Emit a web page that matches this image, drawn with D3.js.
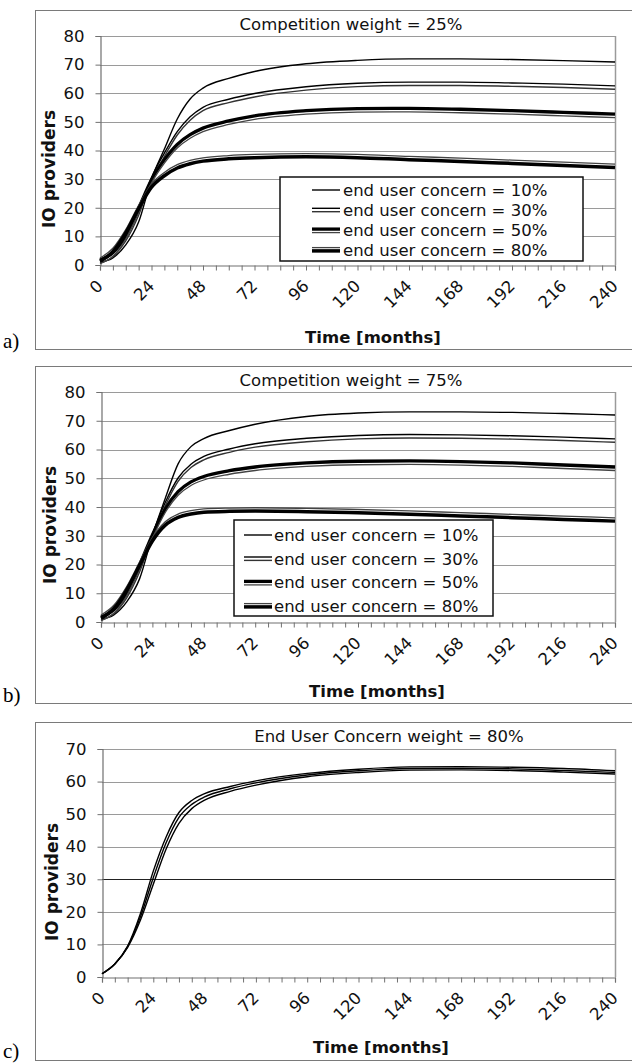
<!DOCTYPE html>
<html><head><meta charset="utf-8">
<script src="https://cdn.jsdelivr.net/npm/d3@7"></script>
<style>body{margin:0;background:#fff}</style>
</head><body><svg id="c" width="632" height="1063"></svg>
<script>
// ---------- DATA ----------
const months = [0, 6, 12, 18, 24, 30, 36, 42, 48, 60, 72, 96, 120, 144, 168, 192, 216, 240];
const xTickLabels = [0, 24, 48, 72, 96, 120, 144, 168, 192, 216, 240];
const yTicksAB = [0, 10, 20, 30, 40, 50, 60, 70, 80];
const yTicksC = [0, 10, 20, 30, 40, 50, 60, 70];
const legendLabels = ["end user concern = 10%", "end user concern = 30%", "end user concern = 50%", "end user concern = 80%"];
const titles = ["Competition weight = 25%", "Competition weight = 75%", "End User Concern weight = 80%"];
const panelLetters = ["a)", "b)", "c)"];
const yAxisTitle = "IO providers";
const xAxisTitle = "Time [months]";

// panel a (competition weight 25%)
const aEuc10 = [1, 2.5, 7, 15, 30, 40.5, 51, 58, 61.8, 65.2, 67.6, 70.3, 71.5, 72, 72, 71.8, 71.4, 70.9];
const aEuc30 = [1.2, 3.5, 9, 18, 30, 38.5, 46, 51.2, 54.5, 57.3, 59.3, 61.7, 62.9, 63.3, 63.3, 63, 62.6, 62];
const aEuc50 = [1.4, 4, 10, 19.5, 29.5, 36.5, 41.8, 45.2, 47.5, 50, 51.8, 53.6, 54.3, 54.4, 54.1, 53.6, 53, 52.4];
const aEuc80 = [1.6, 5, 11.5, 20, 27.5, 31.5, 34.2, 35.7, 36.6, 37.4, 37.8, 38.1, 37.8, 37.1, 36.5, 35.8, 35.1, 34.4];
// panel b (competition weight 75%)
const bEuc10 = [1, 2.5, 7, 15, 30, 43, 55, 61, 63.8, 66.6, 68.8, 71.5, 72.7, 73.1, 73.1, 72.9, 72.5, 72];
const bEuc30 = [1.2, 3.5, 9, 18, 30, 41, 49.5, 54.3, 57, 59.6, 61.4, 63.3, 64.3, 64.6, 64.5, 64.2, 63.7, 63.1];
const bEuc50 = [1.4, 4, 10, 19.5, 30, 39, 45, 48.4, 50.3, 52.3, 53.6, 55, 55.6, 55.7, 55.5, 55, 54.3, 53.6];
const bEuc80 = [1.6, 5, 11.5, 20, 28.5, 34, 36.7, 37.9, 38.5, 38.8, 38.9, 38.7, 38.3, 37.8, 37.2, 36.6, 36, 35.4];
// panel c (end user concern weight 80%)
const cRun1 = [1, 4, 9.5, 19.5, 32.5, 43, 50.5, 54.2, 56.3, 58.5, 60.2, 62.5, 63.8, 64.5, 64.6, 64.4, 64, 63.3];
const cRun2 = [1, 4, 9.3, 18.5, 30.5, 41.2, 49, 53, 55.3, 57.8, 59.6, 62, 63.3, 64, 64.1, 63.9, 63.4, 62.8];
const cRun3 = [1, 4, 9.1, 17.5, 28.5, 39.3, 47.2, 51.7, 54.3, 57, 58.9, 61.5, 62.8, 63.5, 63.6, 63.4, 62.9, 62.3];

// ---------- STYLE / LAYOUT ----------
const FONT = "DejaVu Sans, Verdana, sans-serif";
const SERIF = "Liberation Serif, Times New Roman, serif";
const compound = [
  [{dy: 0, w: 1.4, c: "#000"}],
  [{dy: -1.7, w: 1.4, c: "#000"}, {dy: 1.7, w: 1.4, c: "#333"}],
  [{dy: -0.9, w: 3.3, c: "#000"}, {dy: 2.6, w: 1.3, c: "#444"}],
  [{dy: -2.4, w: 1.3, c: "#444"}, {dy: 0.9, w: 3.5, c: "#000"}]
];
const plain = [{dy: 0, w: 1.4, c: "#000"}];

const panels = [
  {series: [aEuc10, aEuc30, aEuc50, aEuc80], styles: compound, yTicks: yTicksAB,
   frameTop: 10, frameBot: 349, plot: [100, 615, 36, 265],
   titleXY: [351, 30], ylabXY: [49, 169], xlabXY: [373, 343], letterY: 348,
   legend: {x: 280, y: 177, w: 303, h: 84, sx0: 312, sx1: 340, tx: 343, rows: [190, 210, 230, 250]}},
  {series: [bEuc10, bEuc30, bEuc50, bEuc80], styles: compound, yTicks: yTicksAB,
   frameTop: 366, frameBot: 703, plot: [101, 615, 392, 622],
   titleXY: [351, 386], ylabXY: [50, 525], xlabXY: [377, 697], letterY: 702,
   legend: {x: 234, y: 520, w: 259, h: 96, sx0: 244, sx1: 272, tx: 274, rows: [535, 558.7, 582.3, 606]}},
  {series: [cRun1, cRun2, cRun3], styles: [plain, plain, plain], yTicks: yTicksC,
   frameTop: 722, frameBot: 1060, plot: [102, 615, 749, 977], darkGrid: 30,
   titleXY: [389, 742], ylabXY: [52, 882], xlabXY: [381, 1053], letterY: 1058,
   legend: null}
];

const svg = d3.select("#c");
svg.append("rect").attr("width", 632).attr("height", 1063).attr("fill", "#fff");

panels.forEach((p, pi) => {
  const g = svg.append("g");
  const [x0, x1, yTop, yBot] = p.plot;
  const yMax = d3.max(p.yTicks);
  const x = d3.scaleLinear().domain([0, 240]).range([x0, x1]);
  const y = d3.scaleLinear().domain([0, yMax]).range([yBot, yTop]);

  // chart frame
  g.append("rect").attr("x", 35.5).attr("y", p.frameTop + 0.5)
    .attr("width", 700).attr("height", p.frameBot - p.frameTop)
    .attr("fill", "#fff").attr("stroke", "#7a7a7a").attr("stroke-width", 1);

  // gridlines
  g.selectAll(".grid").data(p.yTicks.filter(d => d > 0)).join("line")
    .attr("x1", x0).attr("x2", x1)
    .attr("y1", d => Math.round(y(d)) + 0.5).attr("y2", d => Math.round(y(d)) + 0.5)
    .attr("stroke", d => d === p.darkGrid ? "#222" : "#9a9a9a").attr("stroke-width", 1.2);
  // right border of plot
  g.append("line").attr("x1", x1 + 0.5).attr("x2", x1 + 0.5).attr("y1", yTop).attr("y2", yBot)
    .attr("stroke", "#9a9a9a").attr("stroke-width", 1.5);

  // y axis
  const yAxis = d3.axisLeft(y).tickValues(p.yTicks).tickSize(5).tickPadding(11);
  const ya = g.append("g").attr("transform", `translate(${x0 + 0.5},0)`).call(yAxis);
  ya.select(".domain").attr("stroke", "#707070").attr("stroke-width", 1.2);
  ya.selectAll(".tick line").attr("stroke", "#707070");
  ya.selectAll(".tick text").attr("font-family", FONT).attr("font-size", 16.5).attr("fill", "#111");

  // x axis with minor ticks every 6 months
  const xAxis = d3.axisBottom(x).tickValues(d3.range(0, 241, 6)).tickSize(5).tickFormat("");
  const xa = g.append("g").attr("transform", `translate(0,${yBot + 0.5})`).call(xAxis);
  xa.select(".domain").attr("stroke", "#707070").attr("stroke-width", 1.2);
  xa.selectAll(".tick line").attr("stroke", "#707070");
  g.selectAll(".xl").data(xTickLabels).join("text")
    .attr("transform", d => `translate(${x(d) + 4},${yBot + 22}) rotate(-45)`)
    .attr("text-anchor", "end").attr("font-family", FONT).attr("font-size", 16.5).attr("fill", "#111")
    .text(d => d);

  // series
  const line = d3.line().x((d, i) => x(months[i])).y(d => y(d)).curve(d3.curveMonotoneX);
  p.series.forEach((s, si) => {
    p.styles[si].forEach(st => {
      g.append("path").datum(s).attr("d", line)
        .attr("transform", `translate(0,${st.dy})`)
        .attr("fill", "none").attr("stroke", st.c).attr("stroke-width", st.w)
        .attr("stroke-linejoin", "round");
    });
  });

  // legend
  if (p.legend) {
    const L = p.legend;
    g.append("rect").attr("x", L.x).attr("y", L.y).attr("width", L.w).attr("height", L.h)
      .attr("fill", "#fff").attr("stroke", "#111").attr("stroke-width", 1.5);
    legendLabels.forEach((lab, li) => {
      const ry = L.rows[li];
      p.styles[li].forEach(st => {
        g.append("line").attr("x1", L.sx0).attr("x2", L.sx1)
          .attr("y1", ry + st.dy).attr("y2", ry + st.dy)
          .attr("stroke", st.c).attr("stroke-width", st.w);
      });
      g.append("text").attr("x", L.tx).attr("y", ry).attr("dy", "0.36em")
        .attr("font-family", FONT).attr("font-size", 16.5).attr("fill", "#111").text(lab);
    });
  }

  // titles
  g.append("text").attr("x", p.titleXY[0]).attr("y", p.titleXY[1]).attr("text-anchor", "middle")
    .attr("font-family", FONT).attr("font-size", 16.5).attr("fill", "#111").text(titles[pi]);
  g.append("text").attr("transform", `translate(${p.ylabXY[0]},${p.ylabXY[1]}) rotate(-90)`)
    .attr("text-anchor", "middle").attr("dy", "0.36em")
    .attr("font-family", FONT).attr("font-weight", "bold").attr("font-size", 17).attr("fill", "#111")
    .text(yAxisTitle);
  g.append("text").attr("x", p.xlabXY[0]).attr("y", p.xlabXY[1]).attr("text-anchor", "middle")
    .attr("font-family", FONT).attr("font-weight", "bold").attr("font-size", 16.5).attr("fill", "#111")
    .text(xAxisTitle);
  svg.append("text").attr("x", 3).attr("y", p.letterY)
    .attr("font-family", SERIF).attr("font-size", 21).attr("fill", "#000").text(panelLetters[pi]);
});
</script></body></html>
